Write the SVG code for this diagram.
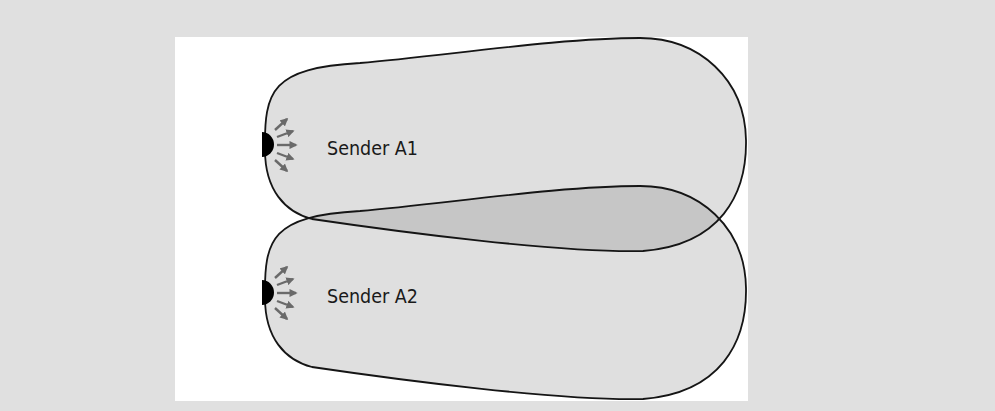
<svg xmlns="http://www.w3.org/2000/svg" width="995" height="411" viewBox="0 0 995 411">
<defs>
<style>
.zone{fill:#dfdfdf;stroke:none}
.edge{fill:none;stroke:#151515;stroke-width:1.8}
.lens{fill:#c6c6c6}
.ray{stroke:#6a6a6a;stroke-width:2.4;fill:none;marker-end:url(#ah)}
.lbl{font-family:"Liberation Sans Narrow","DejaVu Sans Condensed","Liberation Sans",sans-serif;font-size:19.5px;fill:#1a1a1a}
</style>
<marker id="ah" viewBox="0 0 10 10" refX="8" refY="5" markerWidth="3.4" markerHeight="3.4" orient="auto" markerUnits="strokeWidth">
<path d="M0 0 L10 5 L0 10 Z" fill="#6a6a6a"/>
</marker>
<path id="blob" d="M360 63 C450 55 560 38 640 38 C700 38 745 80 746 140 C747 195 720 245 643 251 C560 253 400 232 312 219 C285 212 265 190 265 150 C264 90 272 68 360 63 Z"/>
<clipPath id="clipA1"><use href="#blob"/></clipPath>
<g id="rays">
<path d="M262 132 A12 12.5 0 0 1 262 157 Z" fill="#000"/>
<line class="ray" x1="275" y1="130" x2="287" y2="119"/>
<line class="ray" x1="277" y1="137" x2="293" y2="131"/>
<line class="ray" x1="277" y1="145" x2="296" y2="145"/>
<line class="ray" x1="277" y1="153" x2="293" y2="159"/>
<line class="ray" x1="275" y1="160" x2="287" y2="171"/>
</g>
</defs>
<rect x="0" y="0" width="995" height="411" fill="#e0e0e0"/>
<rect x="175" y="37" width="573" height="364" fill="#ffffff"/>
<g id="zones-fill">
<use href="#blob" class="zone"/>
<use href="#blob" class="zone" transform="translate(0,148)"/>
<g clip-path="url(#clipA1)">
<use href="#blob" class="lens" transform="translate(0,148)"/>
</g>
</g>
<g id="senderA1">
<use href="#blob" class="edge"/>
<use href="#rays"/>
<text class="lbl" x="327" y="155">Sender A1</text>
</g>
<g id="senderA2">
<use href="#blob" class="edge" transform="translate(0,148)"/>
<use href="#rays" transform="translate(0,148)"/>
<text class="lbl" x="327" y="303">Sender A2</text>
</g>
</svg>
